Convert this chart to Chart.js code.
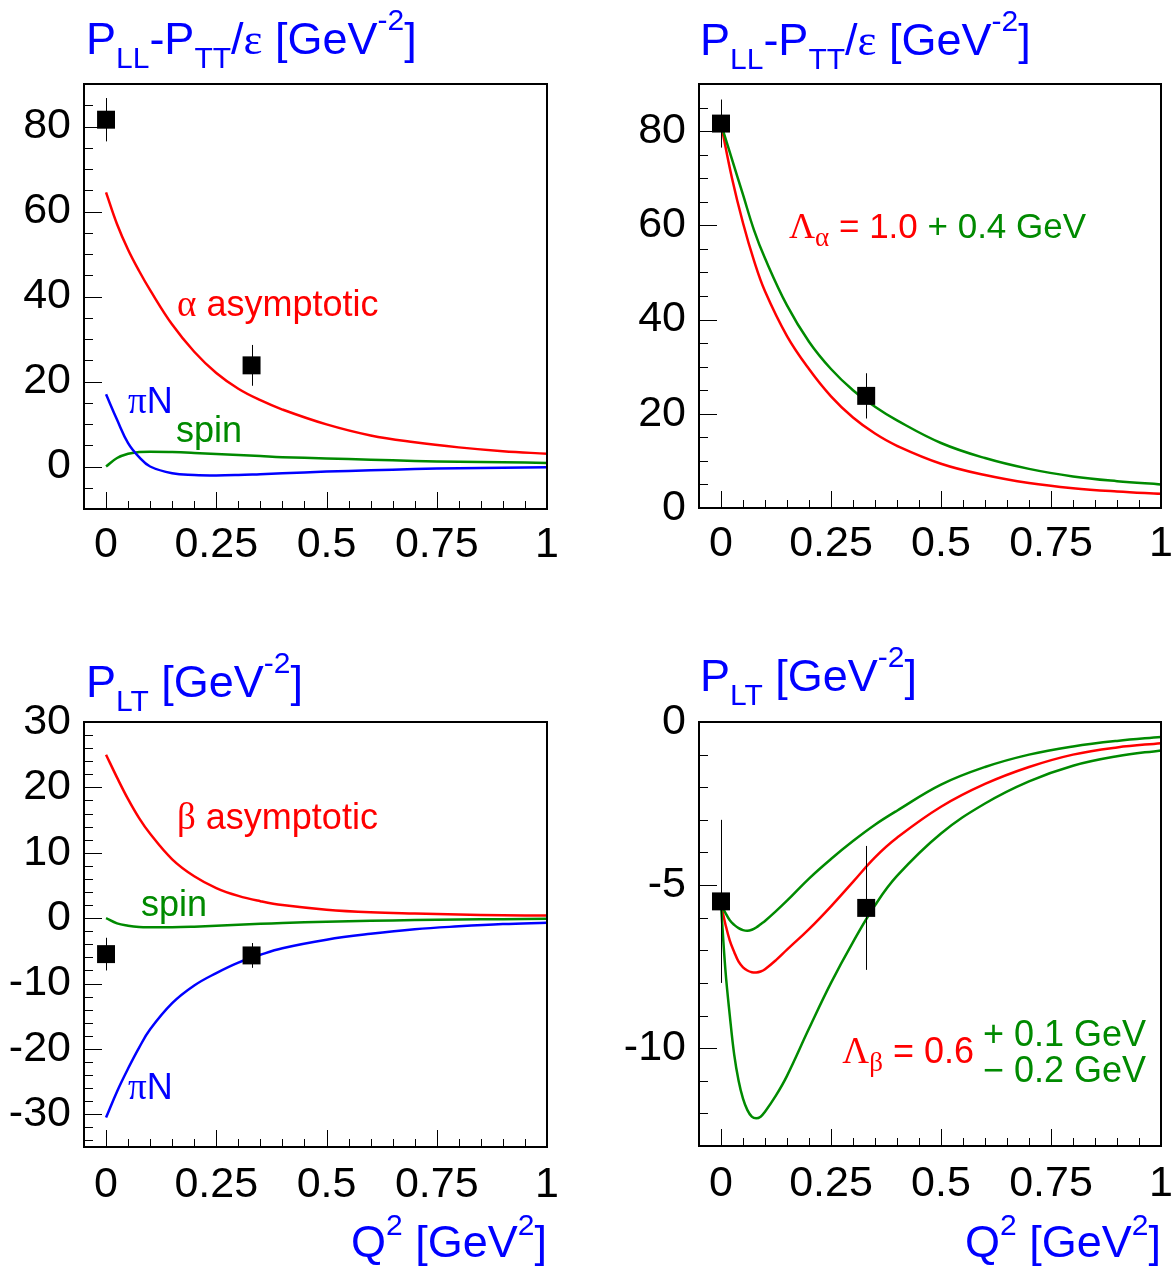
<!DOCTYPE html>
<html>
<head>
<meta charset="utf-8">
<script src="https://cdn.jsdelivr.net/npm/chart.js@4.4.1/dist/chart.umd.min.js"></script>
<style>
  html, body { margin: 0; padding: 0; background: #fff; }
  body { width: 1174px; height: 1267px; position: relative; overflow: hidden; }
  canvas { position: absolute; }
</style>
</head>
<body>
<canvas id="tl" width="600" height="620" style="left:0;top:0"></canvas>
<canvas id="tr" width="574" height="620" style="left:600px;top:0"></canvas>
<canvas id="bl" width="600" height="647" style="left:0;top:620px"></canvas>
<canvas id="br" width="574" height="647" style="left:600px;top:620px"></canvas>
<script>
// Q^2 grid of the model curves [GeV^2]
const q2Grid = [0, 0.025, 0.05, 0.075, 0.1, 0.15, 0.2, 0.25, 0.3, 0.35, 0.4, 0.5, 0.6, 0.7, 0.8, 0.9, 1.0];
const q2GridFine = [0, 0.01, 0.02, 0.03, 0.04, 0.05, 0.06, 0.07, 0.08, 0.09, 0.1, 0.125, 0.15, 0.2, 0.25, 0.3, 0.35, 0.4, 0.5, 0.6, 0.7, 0.8, 0.9, 1.0];

// P_LL - P_TT/eps, contributions (top left)
const pllAlphaAsym = [64.5, 57, 51, 46, 41.5, 33.4, 27, 22, 18.3, 15.6, 13.4, 9.9, 7.3, 5.7, 4.5, 3.6, 3.0];
const pllPiN = [17, 11, 5.5, 2.2, 0, -1.6, -2.0, -2.1, -2.0, -1.8, -1.6, -1.2, -0.9, -0.6, -0.4, -0.3, -0.2];
const pllSpin = [0, 2.0, 3.0, 3.4, 3.5, 3.4, 3.2, 2.95, 2.7, 2.45, 2.2, 1.9, 1.6, 1.3, 1.1, 1.0, 0.85];
// P_LL - P_TT/eps, totals (top right)
const pllLambda10 = [81.5, 70, 60.5, 52.5, 46, 36.5, 29.5, 23.7, 19.2, 15.8, 13.2, 9.4, 7.0, 5.3, 4.2, 3.5, 3.0];
const pllLambda14 = [81.5, 74, 66.5, 59, 53, 43, 35.3, 29.5, 25, 21.5, 18.6, 13.8, 10.6, 8.3, 6.7, 5.7, 5.0];

// P_LT, contributions (bottom left)
const pltBetaAsym = [25, 21.5, 18.2, 15.3, 12.9, 9.0, 6.4, 4.6, 3.4, 2.6, 2.0, 1.3, 0.9, 0.7, 0.55, 0.45, 0.4];
const pltSpin = [0, -0.8, -1.15, -1.35, -1.4, -1.4, -1.3, -1.15, -1.0, -0.87, -0.75, -0.55, -0.4, -0.3, -0.2, -0.15, -0.1];
const pltPiN = [-30.5, -26.5, -23, -19.8, -17, -13, -10.3, -8.4, -6.8, -5.6, -4.6, -3.3, -2.4, -1.7, -1.25, -0.9, -0.7];
// P_LT, totals (bottom right)
const pltLambda06 = [-5.6, -6.2, -6.7, -7.05, -7.35, -7.52, -7.62, -7.67, -7.68, -7.65, -7.58, -7.3, -6.98, -6.35, -5.65, -4.9, -4.15, -3.55, -2.6, -1.9, -1.38, -1.0, -0.78, -0.65];
const pltLambda07 = [-5.6, -5.85, -6.08, -6.22, -6.32, -6.38, -6.4, -6.37, -6.3, -6.2, -6.1, -5.8, -5.48, -4.8, -4.2, -3.65, -3.15, -2.72, -1.92, -1.38, -1.0, -0.75, -0.58, -0.46];
const pltLambda04 = [-5.6, -7.6, -9.0, -10.2, -11.0, -11.55, -11.9, -12.1, -12.15, -12.1, -11.95, -11.45, -10.85, -9.4, -8.0, -6.75, -5.62, -4.72, -3.42, -2.5, -1.82, -1.34, -1.05, -0.87];

// measured points
const dataQ2 = [0, 0.33];
const pllData = [81.6, 23.8];
const pllErr = [5.1, 4.8];
const pltData = [-5.5, -5.7];
const pltErr = [2.5, 1.9];

// ticks
const xTicks = [0, 0.25, 0.5, 0.75, 1];
const xTickLabels = ['0', '0.25', '0.5', '0.75', '1'];
const pllTicks = [0, 20, 40, 60, 80];
const pllTickLabels = ['0', '20', '40', '60', '80'];
const pltTicksL = [-30, -20, -10, 0, 10, 20, 30];
const pltTickLabelsL = ['-30', '-20', '-10', '0', '10', '20', '30'];
const pltTicksR = [-10, -5, 0];
const pltTickLabelsR = ['-10', '-5', '0'];

const SANS = '"Liberation Sans", Arial, Helvetica, sans-serif';
const SERIF = '"Liberation Serif", "Times New Roman", serif';
const RED = '#ff0000', GREEN = '#008a00', BLUE = '#0000ff';

Chart.defaults.font.family = SANS;

function curve(xs, ys, color) {
  return {
    data: xs.map((x, i) => ({ x: x, y: ys[i] })),
    borderColor: color,
    borderWidth: 2.5,
    pointRadius: 0,
    fill: false,
    tension: 0.4
  };
}

function points(ys) {
  return {
    data: dataQ2.map((x, i) => ({ x: x, y: ys[i] })),
    showLine: false,
    pointStyle: 'rect',
    pointRadius: 12.7,
    backgroundColor: '#000',
    borderWidth: 0
  };
}

// text with sub/superscripts: [text, size, color, dy, family]
function drawRich(ctx, x, y, parts, align) {
  let total = 0;
  parts.forEach(p => {
    ctx.font = p[1] + 'px ' + (p[4] || SANS);
    p.w = ctx.measureText(p[0]).width;
    total += p.w;
  });
  if (align === 'right') x -= total;
  ctx.textAlign = 'left';
  ctx.textBaseline = 'alphabetic';
  parts.forEach(p => {
    ctx.font = p[1] + 'px ' + (p[4] || SANS);
    ctx.fillStyle = p[2];
    ctx.fillText(p[0], x, y + (p[3] || 0));
    x += p.w;
  });
}

function makePanel(id, p) {
  const decor = {
    id: 'decor',
    afterDatasetsDraw(chart) {
      const ctx = chart.ctx, xs = chart.scales.x, ys = chart.scales.y;
      ctx.save();
      ctx.strokeStyle = '#000';
      ctx.lineWidth = 1;
      p.errY.forEach((v, i) => {
        const px = Math.round(xs.getPixelForValue(dataQ2[i])) + 0.5;
        ctx.beginPath();
        ctx.moveTo(px, ys.getPixelForValue(v - p.err[i]));
        ctx.lineTo(px, ys.getPixelForValue(v + p.err[i]));
        ctx.stroke();
      });
      ctx.restore();
    },
    afterDraw(chart) {
      const ctx = chart.ctx, a = chart.chartArea, xs = chart.scales.x, ys = chart.scales.y;
      ctx.save();
      ctx.strokeStyle = '#000';
      ctx.lineWidth = 1;
      // x ticks inside the frame
      for (let k = 0; k <= 20; k++) {
        const v = k * 0.05;
        const major = k % 5 === 0;
        const px = Math.round(xs.getPixelForValue(v)) + 0.5;
        ctx.beginPath();
        ctx.moveTo(px, a.bottom);
        ctx.lineTo(px, a.bottom - (major ? 17 : 8));
        ctx.stroke();
      }
      // y ticks inside the frame
      const start = Math.ceil(p.yMin / p.yMinor);
      const end = Math.floor(p.yMax / p.yMinor);
      for (let k = start; k <= end; k++) {
        const v = k * p.yMinor;
        const major = p.yTicks.indexOf(v) >= 0;
        const py = Math.round(ys.getPixelForValue(v)) + 0.5;
        ctx.beginPath();
        ctx.moveTo(a.left, py);
        ctx.lineTo(a.left + (major ? 18 : 9), py);
        ctx.stroke();
      }
      ctx.lineWidth = 2;
      ctx.strokeRect(a.left, a.top, a.right - a.left, a.bottom - a.top);
      // labels
      p.texts.forEach(t => drawRich(ctx, t.x - p.x, t.y - p.y, t.parts, t.align));
      ctx.restore();
    }
  };

  return new Chart(document.getElementById(id), {
    type: 'line',
    data: { datasets: p.datasets },
    plugins: [decor],
    options: {
      responsive: false,
      animation: false,
      devicePixelRatio: 1,
      layout: { padding: { left: 0, right: p.w - (p.area[1] - p.x), top: p.area[2] - p.y, bottom: 0 } },
      plugins: { legend: { display: false }, tooltip: { enabled: false } },
      scales: {
        x: {
          type: 'linear', min: -0.05, max: 1,
          grid: { display: false, drawTicks: false },
          border: { display: false },
          afterBuildTicks: s => { s.ticks = xTicks.map(v => ({ value: v })); },
          afterFit: s => { s.height = p.h - (p.area[3] - p.y); s.paddingLeft = 0; s.paddingRight = 0; },
          ticks: {
            autoSkip: false, maxRotation: 0, padding: p.xPad, color: '#000',
            font: { size: 43 },
            callback: (v, i) => xTickLabels[i]
          }
        },
        y: {
          type: 'linear', min: p.yMin, max: p.yMax,
          grid: { display: false, drawTicks: false },
          border: { display: false },
          afterBuildTicks: s => { s.ticks = p.yTicks.map(v => ({ value: v })); },
          afterFit: s => { s.width = p.area[0] - p.x; s.paddingTop = 0; s.paddingBottom = 0; },
          ticks: {
            autoSkip: false, padding: 13, color: '#000',
            font: { size: 43 },
            callback: (v, i) => p.yLabels[i]
          }
        }
      }
    }
  });
}

const pllTitle = [['P', 45, BLUE], ['LL', 30, BLUE, 14], ['-P', 45, BLUE], ['TT', 30, BLUE, 14],
  ['/', 45, BLUE], ['\u03b5', 45, BLUE, 0, SERIF], [' [GeV', 45, BLUE], ['-2', 30, BLUE, -24], [']', 45, BLUE]];
const pltTitle = [['P', 45, BLUE], ['LT', 30, BLUE, 14], [' [GeV', 45, BLUE], ['-2', 30, BLUE, -24], [']', 45, BLUE]];
const q2Title = [['Q', 45, BLUE], ['2', 30, BLUE, -22], [' [GeV', 45, BLUE], ['2', 30, BLUE, -22], [']', 45, BLUE]];

makePanel('tl', {
  x: 0, y: 0, w: 600, h: 620, area: [84, 547, 84, 509], xPad: 10,
  yMin: -10, yMax: 90, yMinor: 5, yTicks: pllTicks, yLabels: pllTickLabels,
  errY: pllData, err: pllErr,
  datasets: [points(pllData), curve(q2Grid, pllAlphaAsym, RED), curve(q2Grid, pllPiN, BLUE), curve(q2Grid, pllSpin, GREEN)],
  texts: [
    { x: 86, y: 54, parts: pllTitle },
    { x: 177, y: 316, parts: [['\u03b1', 37, RED, 0, SERIF], [' asymptotic', 36, RED]] },
    { x: 128, y: 413, parts: [['\u03c0', 37, BLUE, 0, SERIF], ['N', 36, BLUE]] },
    { x: 176, y: 442, parts: [['spin', 36, GREEN]] }
  ]
});

makePanel('tr', {
  x: 600, y: 0, w: 574, h: 620, area: [699, 1161, 84, 508], xPad: 10,
  yMin: 0, yMax: 90, yMinor: 5, yTicks: pllTicks, yLabels: pllTickLabels,
  errY: pllData, err: pllErr,
  datasets: [points(pllData), curve(q2Grid, pllLambda14, GREEN), curve(q2Grid, pllLambda10, RED)],
  texts: [
    { x: 700, y: 55, parts: pllTitle },
    { x: 789, y: 238, parts: [['\u039b', 36, RED, 0, SERIF], ['\u03b1', 27, RED, 8, SERIF], [' = 1.0', 35, RED], [' + 0.4 GeV', 35, GREEN]] }
  ]
});

makePanel('bl', {
  x: 0, y: 620, w: 600, h: 647, area: [84, 547, 722, 1147], xPad: 12,
  yMin: -35, yMax: 30, yMinor: 2, yTicks: pltTicksL, yLabels: pltTickLabelsL,
  errY: pltData, err: pltErr,
  datasets: [points(pltData), curve(q2Grid, pltBetaAsym, RED), curve(q2Grid, pltSpin, GREEN), curve(q2Grid, pltPiN, BLUE)],
  texts: [
    { x: 86, y: 697, parts: pltTitle },
    { x: 177, y: 829, parts: [['\u03b2', 37, RED, 0, SERIF], [' asymptotic', 36, RED]] },
    { x: 141, y: 916, parts: [['spin', 36, GREEN]] },
    { x: 128, y: 1099, parts: [['\u03c0', 37, BLUE, 0, SERIF], ['N', 36, BLUE]] },
    { x: 547, y: 1257, parts: q2Title, align: 'right' }
  ]
});

makePanel('br', {
  x: 600, y: 620, w: 574, h: 647, area: [699, 1161, 722, 1146], xPad: 12,
  yMin: -13, yMax: 0, yMinor: 1, yTicks: pltTicksR, yLabels: pltTickLabelsR,
  errY: pltData, err: pltErr,
  datasets: [points(pltData), curve(q2GridFine, pltLambda07, GREEN), curve(q2GridFine, pltLambda04, GREEN), curve(q2GridFine, pltLambda06, RED)],
  texts: [
    { x: 700, y: 691, parts: pltTitle },
    { x: 974, y: 1063, parts: [['\u039b', 37, RED, 0, SERIF], ['\u03b2', 27, RED, 8, SERIF], [' = 0.6', 36, RED]], align: 'right' },
    { x: 983, y: 1046, parts: [['+ 0.1 GeV', 36, GREEN]] },
    { x: 983, y: 1082, parts: [['\u2212 0.2 GeV', 36, GREEN]] },
    { x: 1161, y: 1257, parts: q2Title, align: 'right' }
  ]
});
</script>
</body>
</html>
